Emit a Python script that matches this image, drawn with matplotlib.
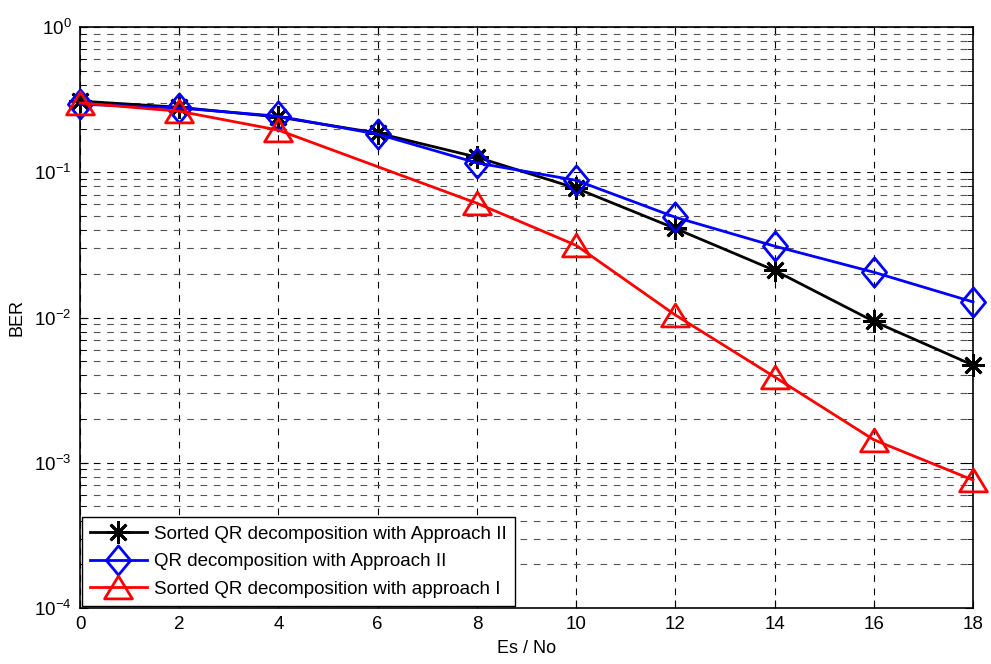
import matplotlib
matplotlib.use("Agg")
import matplotlib.pyplot as plt
from matplotlib.ticker import LogLocator, NullFormatter, FixedLocator
from matplotlib.path import Path

plt.rcParams['font.family'] = ['Liberation Sans', 'DejaVu Sans']
plt.rcParams['mathtext.fontset'] = 'custom'
plt.rcParams['mathtext.rm'] = 'Liberation Sans'
plt.rcParams['mathtext.default'] = 'regular'

snr_full = [0, 2, 4, 6, 8, 10, 12, 14, 16, 18]
snr_red = [0, 2, 4, 8, 10, 12, 14, 16, 18]
ber_sorted_qr_ii = [0.309, 0.28, 0.24, 0.186, 0.127, 0.0776, 0.041, 0.0211, 0.0094, 0.0047]
ber_qr_ii = [0.294, 0.277, 0.243, 0.183, 0.116, 0.088, 0.049, 0.031, 0.0205, 0.0128]
ber_sorted_qr_i = [0.30, 0.263, 0.195, 0.0612, 0.0314, 0.0104, 0.0039, 0.00144, 0.00076]

labels = ["Sorted QR decomposition with Approach II",
          "QR decomposition with Approach II",
          "Sorted QR decomposition with approach I"]
x_ticks = [0, 2, 4, 6, 8, 10, 12, 14, 16, 18]

diamond = Path([(0, 1), (0.83, 0), (0, -1), (-0.83, 0), (0, 1)],
               [Path.MOVETO, Path.LINETO, Path.LINETO, Path.LINETO, Path.CLOSEPOLY])
triangle = Path([(0, 0.82), (1, -0.82), (-1, -0.82), (0, 0.82)],
                [Path.MOVETO, Path.LINETO, Path.LINETO, Path.CLOSEPOLY])

fig = plt.figure(figsize=(9.91, 6.64), dpi=100)
ax = fig.add_axes([80/991, 56/664, 893/991, 581/664])

ax.semilogy(snr_full, ber_sorted_qr_ii, color='black', lw=2, marker=(8, 2, 0),
            ms=16, mew=2, label=labels[0], zorder=3, clip_on=False)
ax.semilogy(snr_full, ber_qr_ii, color='#0000ff', lw=2, marker=diamond, ms=21, mew=2,
            mfc='none', label=labels[1], zorder=3, clip_on=False)
ax.semilogy(snr_red, ber_sorted_qr_i, color='#ff0000', lw=2, marker=triangle, ms=20, mew=2,
            mfc='none', label=labels[2], zorder=3, clip_on=False)

ax.set_xlim(0, 18)
ax.set_ylim(1e-4, 1)
ax.xaxis.set_major_locator(FixedLocator(x_ticks))
ax.yaxis.set_major_locator(LogLocator(base=10, numticks=10))
ax.yaxis.set_minor_locator(LogLocator(base=10, subs=range(2, 10), numticks=20))
ax.yaxis.set_minor_formatter(NullFormatter())

ax.grid(True, which='major', color='black', linestyle=(0, (6, 6)), lw=0.8)
ax.grid(True, which='minor', axis='y', color='#555555', linestyle=(0, (6, 6)), lw=0.8)
ax.tick_params(direction='in', which='both', top=True, right=True, labelsize=13.5)
ax.tick_params(which='major', length=6, pad=6)
ax.tick_params(which='minor', length=4)
for s in ax.spines.values():
    s.set_linewidth(1.2)

ax.set_xlabel("Es / No", fontsize=13, labelpad=5)
ax.set_ylabel("BER", fontsize=13, labelpad=6)

leg = ax.legend(loc='lower left', bbox_to_anchor=(0, 0), fontsize=13.5, fancybox=False,
                framealpha=1, edgecolor='black', borderaxespad=0.1, handlelength=3.0,
                handletextpad=0.4, labelspacing=0.55, borderpad=0.45, numpoints=1)
leg.get_frame().set_linewidth(1.0)

fig.savefig("out.png", dpi=100)
